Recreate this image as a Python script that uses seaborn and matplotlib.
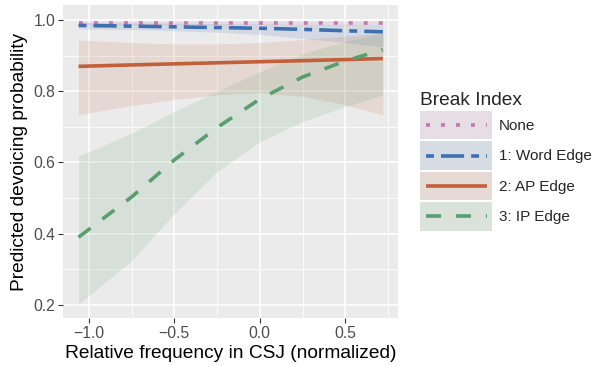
import numpy as np
import pandas as pd
import seaborn as sns
import matplotlib
matplotlib.use("Agg")
import matplotlib.pyplot as plt
from matplotlib.patches import Rectangle
from matplotlib.lines import Line2D
from matplotlib.legend_handler import HandlerBase
from matplotlib.colors import to_rgb
from matplotlib.ticker import MultipleLocator

# ---- data ----
freq = [-1.06, -0.75, -0.5, -0.25, 0.0, 0.25, 0.5, 0.72]

none_fit = [0.993, 0.993, 0.993, 0.993, 0.993, 0.993, 0.993, 0.993]
none_lo  = [0.986, 0.986, 0.987, 0.987, 0.987, 0.986, 0.985, 0.984]
none_hi  = [0.997, 0.997, 0.997, 0.997, 0.997, 0.997, 0.997, 0.997]

word_fit = [0.985, 0.983, 0.981, 0.979, 0.977, 0.974, 0.970, 0.967]
word_lo  = [0.975, 0.973, 0.970, 0.966, 0.960, 0.948, 0.937, 0.925]
word_hi  = [0.993, 0.992, 0.991, 0.990, 0.989, 0.988, 0.987, 0.985]

ap_fit = [0.870, 0.874, 0.877, 0.880, 0.883, 0.886, 0.889, 0.892]
ap_lo  = [0.734, 0.760, 0.777, 0.790, 0.796, 0.786, 0.762, 0.734]
ap_hi  = [0.944, 0.937, 0.933, 0.933, 0.937, 0.945, 0.955, 0.963]

ip_fit = [0.390, 0.503, 0.607, 0.698, 0.778, 0.840, 0.885, 0.917]
ip_lo  = [0.202, 0.324, 0.456, 0.574, 0.658, 0.715, 0.757, 0.790]
ip_hi  = [0.618, 0.682, 0.743, 0.800, 0.855, 0.905, 0.940, 0.963]

levels = ["None", "1: Word Edge", "2: AP Edge", "3: IP Edge"]
colors = ["#C27BAE", "#3E6FB0", "#C1603A", "#5A9E6E"]
dashes = [(1.1, 3.05), (2.2, 1.95, 6.4, 1.95), (1, 0), (4.15, 4.15)]

fits = [none_fit, word_fit, ap_fit, ip_fit]
los = [none_lo, word_lo, ap_lo, ip_lo]
his = [none_hi, word_hi, ap_hi, ip_hi]

rows = []
for lev, f, lo, hi in zip(levels, fits, los, his):
    for x, y, l, h in zip(freq, f, lo, hi):
        rows.append({"freq": x, "fit": y, "lo": l, "hi": h, "Break Index": lev})
df = pd.DataFrame(rows)

LW = 2.6
BAND_ALPHA = 0.14
KEY_ALPHA = 0.12
PANEL = "#EBEBEB"

# ---- style ----
sns.set_theme(style="darkgrid")
plt.rcParams["font.family"] = ["Liberation Sans", "DejaVu Sans"]

fig = plt.figure(figsize=(5.98, 3.66), dpi=100)
ax = fig.add_axes([0.105, 0.131, 0.561, 0.855])
ax.set_facecolor(PANEL)

for lev, col in zip(levels, colors):
    sub = df[df["Break Index"] == lev]
    ax.fill_between(sub["freq"], sub["lo"], sub["hi"], color=col, alpha=BAND_ALPHA, lw=0)

sns.lineplot(data=df, x="freq", y="fit", hue="Break Index", style="Break Index",
             hue_order=levels, style_order=levels, palette=colors,
             dashes=dashes, linewidth=LW, ax=ax, legend=False)
for ln in ax.lines:
    ln.set_dash_capstyle("butt")

ax.set_xlim(-1.152, 0.81)
ax.set_ylim(0.163, 1.042)
ax.xaxis.set_minor_locator(MultipleLocator(0.25))
ax.yaxis.set_minor_locator(MultipleLocator(0.1))
ax.set_xticks([-1.0, -0.5, 0.0, 0.5])
ax.set_xticklabels(["\u22121.0", "\u22120.5", "0.0", "0.5"])
ax.set_yticks([0.2, 0.4, 0.6, 0.8, 1.0])
ax.set_yticklabels(["0.2", "0.4", "0.6", "0.8", "1.0"])
ax.grid(which="major", color="white", lw=1.1)
ax.grid(which="minor", color="white", lw=0.55)
for s in ax.spines.values():
    s.set_visible(False)
ax.tick_params(axis="both", which="major", length=3.5, width=0.8, color="#333333",
               labelsize=11.3, labelcolor="#4D4D4D", pad=2, bottom=True, left=True)
ax.tick_params(which="minor", length=0)
ax.set_xlabel("Relative frequency in CSJ (normalized)", fontsize=13.8, color="black", labelpad=3)
ax.set_ylabel("Predicted devoicing probability", fontsize=13.8, color="black", labelpad=4)


def blend(col, a=KEY_ALPHA, bg=PANEL):
    c = np.array(to_rgb(col)); b = np.array(to_rgb(bg))
    return tuple(a * c + (1 - a) * b)


class KeyHandler(HandlerBase):
    def create_artists(self, legend, orig_handle, xdescent, ydescent,
                       width, height, fontsize, trans):
        col, d = orig_handle
        rect = Rectangle((-xdescent, -ydescent), width, height,
                         facecolor=blend(col), edgecolor="none", transform=trans)
        pad = width * 0.08
        y = -ydescent + height / 2
        line = Line2D([-xdescent + pad, -xdescent + width - pad], [y, y],
                      color=col, lw=LW, dashes=d, dash_capstyle="butt",
                      transform=trans)
        return [rect, line]


handles = [(c, d) for c, d in zip(colors, dashes)]
leg = fig.legend(handles, levels, title="Break Index", loc="upper left",
                 bbox_to_anchor=(0.702, 1 - 92 / 366), frameon=False, fontsize=11,
                 title_fontsize=13.8, handlelength=4.75, handleheight=2.5,
                 labelspacing=0.12, handletextpad=0.45, borderpad=0, borderaxespad=0,
                 handler_map={tuple: KeyHandler()})
leg._legend_box.align = "left"

fig.savefig("out.png", dpi=100)
